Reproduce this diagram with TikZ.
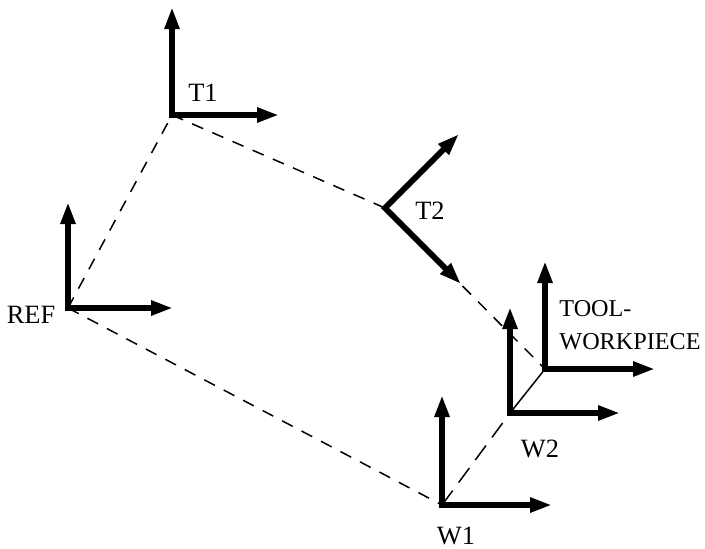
\documentclass[tikz,border=0pt]{standalone}
\usepackage{fontspec}
\setmainfont{Liberation Serif}
\usetikzlibrary{arrows.meta}
\begin{document}
\begin{tikzpicture}[x=0.5pt,y=-0.5pt,
    axis/.style={line width=2.9pt,miter limit=4,{Triangle[length=11pt,width=7pt]}-{Triangle[length=11pt,width=7pt]}},
    link/.style={line width=0.75pt,dash pattern=on 6pt off 5pt},
    lbl/.style={font=\fontsize{13.2}{16.5}\selectfont,inner sep=0pt}]
    \useasboundingbox (0,0) rectangle (705,548);
    % 各坐标系原点
    \coordinate (REF) at (68,308);
    \coordinate (T1) at (172,115);
    \coordinate (T2) at (385,208);
    \coordinate (W1) at (442,505);
    \coordinate (W2) at (510,413);
    \coordinate (TW) at (545,369);
    % 连线
    \draw[link] (REF) -- (T1);
    \draw[link] (T1) -- (T2);
    \draw[link] (T2) -- (TW);
    \draw[link] (REF) -- (W1);
    \draw[link,dash pattern=on 9pt off 5pt] (W1) -- (W2);
    \draw[line width=0.75pt] (W2) -- (TW);
    % 坐标轴
    \coordinate (REFy) at (68,202);  \coordinate (REFx) at (173,308);
    \coordinate (T1y) at (172,7);    \coordinate (T1x) at (279,115);
    \coordinate (T2a) at (459,134);  \coordinate (T2b) at (461,284);
    \coordinate (W1y) at (442,395);  \coordinate (W1x) at (552,505);
    \coordinate (W2y) at (510,307);  \coordinate (W2x) at (620,413);
    \coordinate (TWy) at (545,261);  \coordinate (TWx) at (655,369);
    \draw[axis] (REFy) -- (REF) -- (REFx);
    \draw[axis] (T1y) -- (T1) -- (T1x);
    \draw[axis] (T2a) -- (T2) -- (T2b);
    \draw[axis] (W1y) -- (W1) -- (W1x);
    \draw[axis] (W2y) -- (W2) -- (W2x);
    \draw[axis] (TWy) -- (TW) -- (TWx);
    % 标签
    \node[lbl] (REFlbl) at (31,315) {REF};
    \node[lbl] (T1lbl) at (203,93) {T1};
    \node[lbl] (T2lbl) at (430,211) {T2};
    \node[lbl] (W1lbl) at (456,536) {W1};
    \node[lbl] (W2lbl) at (540,449) {W2};
    \node[lbl,font=\fontsize{12.1}{16.5}\selectfont,anchor=west,align=left] (TWlbl) at (559,325) {TOOL-\\WORKPIECE};
\end{tikzpicture}
\end{document}
